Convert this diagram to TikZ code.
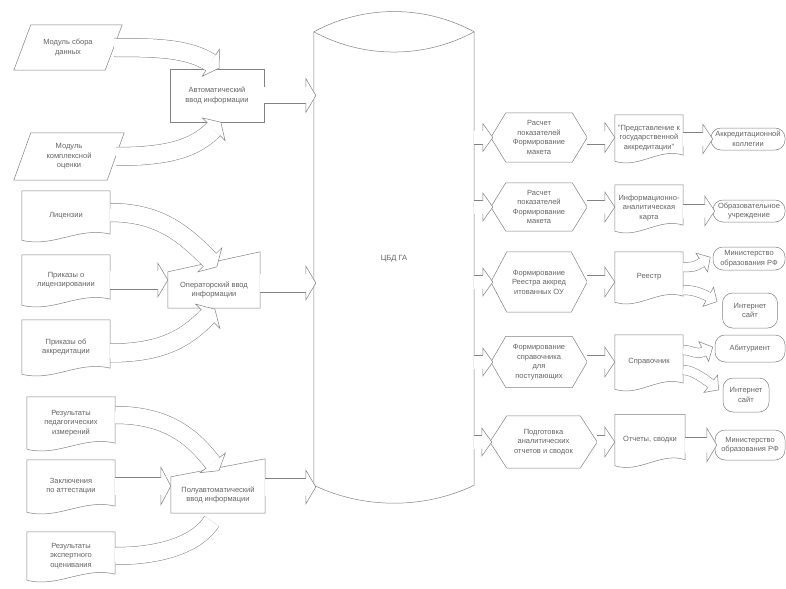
\documentclass[tikz,border=0pt]{standalone}
\usepackage{fontspec}
\setmainfont{Liberation Sans}
\usetikzlibrary{calc, positioning, decorations.markings}
\definecolor{linegray}{RGB}{130,130,130}
\definecolor{textgray}{RGB}{100,100,100}

% outlines drawn round named (invisible) nodes
\newcommand{\docoutline}[1]{%
  \draw[linegray, line width=0.5pt] (#1.south west) -- (#1.north west) -- (#1.north east) -- ($(#1.south east)+(0,-6)$)
    .. controls ($(#1.south east)!0.35!(#1.south west)+(0,-14)$) and ($(#1.south west)!0.35!(#1.south east)+(0,8)$) .. (#1.south west);}
\newcommand{\paroutline}[2]{%
  \draw[linegray, line width=0.5pt] (#1.south west) -- ($(#1.north west)+(#2,0)$) -- (#1.north east) -- ($(#1.south east)+(-#2,0)$) -- cycle;}
\newcommand{\manoutline}[2]{%
  \draw[linegray, line width=0.5pt] (#1.north west) -- ($(#1.north east)+(0,-#2)$) -- (#1.south east) -- (#1.south west) -- cycle;}
\newcommand{\hexoutline}[2]{%
  \draw[linegray, line width=0.5pt] (#1.west) -- ($(#1.north west)+(#2,0)$) -- ($(#1.north east)+(-#2,0)$) -- (#1.east)
    -- ($(#1.south east)+(-#2,0)$) -- ($(#1.south west)+(#2,0)$) -- cycle;}
% hollow block arrow: band width, head half width, path
\newcommand{\blockarrow}[3]{%
  \draw[linegray, line width=#1pt+1pt] #3;
  \draw[white, line width=#1pt] #3;
  \path[decorate, decoration={markings, mark=at position 1 with {%
    \fill[white] (0,-#2) -- (10,0) -- (0,#2) -- cycle;
    \draw[linegray, line width=0.5pt] (0,0.5*#1) -- (0,#2) -- (10,0) -- (0,-#2) -- (0,-0.5*#1);}}] #3;}

\begin{document}
\begin{tikzpicture}[x=1pt, y=-1pt,
  lbl/.style={font=\fontsize{7.5}{9.5}\selectfont, text=textgray, align=center, inner sep=0pt},
  box/.style={lbl, draw=linegray, line width=0.5pt},
  term/.style={box, rounded corners=10pt}]
  \fill[white] (0,0) rectangle (786,583);

  % Sources
  \node[lbl, minimum width=108pt, minimum height=45pt] (sbor) at (68,47.5) {Модуль сбора\\данных};
  \node[lbl, minimum width=110pt, minimum height=47pt] (kompl) at (69,156.5) {Модуль\\комплексной\\оценки};
  \node[lbl, minimum width=88pt, minimum height=49pt] (licenz) at (66,215.5) {Лицензии};
  \node[lbl, minimum width=88pt, minimum height=50pt] (prlic) at (66,280) {Приказы о\\лицензировании};
  \node[lbl, minimum width=88pt, minimum height=54pt] (prakk) at (66,347) {Приказы об\\аккредитации};
  \node[lbl, minimum width=88pt, minimum height=52pt] (pedizm) at (71,423) {Результаты\\педагогических\\измерений};
  \node[lbl, minimum width=88pt, minimum height=52pt] (zaklat) at (71,486) {Заключения\\по аттестации};
  \node[lbl, minimum width=88pt, minimum height=48pt] (ekspert) at (71,556) {Результаты\\экспертного\\оценивания};
  \paroutline{sbor}{17}
  \paroutline{kompl}{17}
  \docoutline{licenz}
  \docoutline{prlic}
  \docoutline{prakk}
  \docoutline{pedizm}
  \docoutline{zaklat}
  \docoutline{ekspert}

  % Input modes
  \node[box, minimum width=94pt, minimum height=53pt] (avtovvod) at (217,95.5) {Автоматический\\ввод информации};
  \node[lbl, minimum width=92pt, minimum height=36pt] (opervvod) at (214,290) {Операторский ввод\\информации};
  \node[lbl, minimum width=94pt, minimum height=36pt] (poluvvod) at (218,495) {Полуавтоматический\\ввод информации};
  \manoutline{opervvod}{20}
  \manoutline{poluvvod}{18}

  % Database
  \node[lbl, minimum width=160pt, minimum height=453pt] (cbd) at (394,258.5) {ЦБД ГА};
  \draw[linegray, line width=0.5pt] (cbd.north west) -- (cbd.south west)
    .. controls ($(cbd.south west)+(50,24)$) and ($(cbd.south east)+(-50,24)$) .. (cbd.south east) -- (cbd.north east)
    .. controls ($(cbd.north east)+(-50,-27)$) and ($(cbd.north west)+(50,-27)$) .. (cbd.north west)
    .. controls ($(cbd.north west)+(50,27)$) and ($(cbd.north east)+(-50,27)$) .. (cbd.north east);

  % Processing
  \node[lbl, minimum width=96pt, minimum height=49pt] (raschet1) at (539,137.5) {Расчет\\показателей\\Формирование\\макета};
  \node[lbl, minimum width=96pt, minimum height=48pt] (raschet2) at (539,207) {Расчет\\показателей\\Формирование\\макета};
  \node[lbl, minimum width=96pt, minimum height=60pt] (formreestr) at (539,282) {Формирование\\Реестра аккред\\итованных ОУ};
  \node[lbl, minimum width=96pt, minimum height=51pt] (formsprav) at (539,362) {Формирование\\справочника\\для\\поступающих};
  \node[lbl, minimum width=107pt, minimum height=52pt] (podgot) at (543.5,442) {Подготовка\\аналитических\\отчетов и сводок};
  \hexoutline{raschet1}{15}
  \hexoutline{raschet2}{15}
  \hexoutline{formreestr}{16}
  \hexoutline{formsprav}{15}
  \hexoutline{podgot}{17}

  % Documents
  \node[lbl, minimum width=68pt, minimum height=46pt] (predst) at (649,138) {"Представление к\\государственной\\аккредитации"};
  \node[lbl, minimum width=68pt, minimum height=46pt] (infkarta) at (649,208) {Информационно-\\аналитическая\\карта};
  \node[lbl, minimum width=68pt, minimum height=50pt] (reestr) at (649,277) {Реестр};
  \node[lbl, minimum width=68pt, minimum height=54pt] (spravoch) at (649,362) {Справочник};
  \node[lbl, minimum width=70pt, minimum height=51pt] (otchety) at (650,440) {Отчеты, сводки};
  \docoutline{predst}
  \docoutline{infkarta}
  \docoutline{reestr}
  \docoutline{spravoch}
  \docoutline{otchety}

  % Recipients
  \node[term, minimum width=74pt, minimum height=22pt] (akkol) at (748,139) {Аккредитационной\\коллегии};
  \node[term, minimum width=72pt, minimum height=22pt] (obruchr) at (749,211) {Образовательное\\учреждение};
  \node[term, minimum width=72pt, minimum height=23pt] (minobr1) at (749,258.5) {Министерство\\образования РФ};
  \node[term, minimum width=55pt, minimum height=35pt] (sait1) at (750,310.5) {Интернет\\сайт};
  \node[term, minimum width=70pt, minimum height=27pt] (abitur) at (750,348.5) {Абитуриент};
  \node[term, minimum width=46pt, minimum height=34pt] (sait2) at (746,395) {Интернет\\сайт};
  \node[term, minimum width=70pt, minimum height=30pt] (minobr2) at (750,445) {Министерство\\образования РФ};

  % Flows into the input modes
  \blockarrow{18}{16}{($(sbor.east)+(-8,0)$) .. controls +(45,0) and +(-22,-14) .. ($(avtovvod.north west)+(41,-6)$)}
  \blockarrow{18}{16}{($(kompl.east)+(-8,0)$) .. controls +(55,0) and +(-18,18) .. ($(avtovvod.south west)+(44,7)$)}
  \blockarrow{18}{17}{($(licenz.east)+(0,-3)$) .. controls +(50,0) and +(-25,-25) .. ($(opervvod.north west)+(42,-12)$)}
  \blockarrow{18}{17}{(prlic.east) -- ($(opervvod.west |- prlic.east)+(-10,0)$)}
  \blockarrow{18}{17}{($(prakk.east)+(0,6)$) .. controls +(55,0) and +(-20,20) .. ($(opervvod.south west)+(40,8)$)}
  \blockarrow{17}{16}{($(pedizm.east)+(0,-8)$) .. controls +(55,0) and +(-18,-23) .. ($(poluvvod.north west)+(42,-14)$)}
  \blockarrow{17}{19}{(zaklat.east) -- ($(poluvvod.west |- zaklat.east)+(-10,0)$)}
  \blockarrow{17}{16}{(ekspert.east) .. controls +(50,0) and +(-13,21) .. ($(poluvvod.south west)+(41,8)$)}

  % Flows into the database
  \blockarrow{16}{17}{(avtovvod.east) -- ($(cbd.west |- avtovvod.east)+(-8,0)$)}
  \blockarrow{18}{17}{($(opervvod.east)+(0,-7)$) -- ($(cbd.west |- opervvod.east)+(-8,-7)$)}
  \blockarrow{17}{17}{($(poluvvod.east)+(0,-8)$) -- ($(cbd.west |- poluvvod.east)+(-8,-8)$)}

  % Flows out of the database
  \foreach \hx/\dc in {raschet1/predst, raschet2/infkarta, formreestr/reestr, formsprav/spravoch, podgot/otchety} {
    \blockarrow{13}{14}{(cbd.east |- \hx.west) -- ($(\hx.west)+(-8,0)$)}
    \blockarrow{13}{15}{(\hx.east) -- ($(\dc.west |- \hx.east)+(-10,0)$)}
  }
  \blockarrow{13}{15}{(predst.east |- akkol.west) -- ($(akkol.west)+(-8,0)$)}
  \blockarrow{13}{15}{(infkarta.east |- obruchr.west) -- ($(obruchr.west)+(-8,0)$)}
  \blockarrow{15}{17}{(otchety.east |- minobr2.west) -- ($(minobr2.west)+(-8,0)$)}
  \blockarrow{9}{11}{($(reestr.east)+(0,-10)$) .. controls +(9,0) and +(-8,5) .. ($(minobr1.west)+(-11,4)$)}
  \blockarrow{9}{11}{($(reestr.east)+(0,13)$) .. controls +(8,0) and +(-9,-5) .. ($(sait1.north west)+(-14,4)$)}
  \blockarrow{9}{11}{($(spravoch.east)+(0,-12)$) .. controls +(9,0) and +(-8,4) .. ($(abitur.west)+(-11,3)$)}
  \blockarrow{9}{11}{($(spravoch.east)+(0,8)$) .. controls +(8,0) and +(-9,-7) .. ($(sait2.north west)+(-12,6)$)}
\end{tikzpicture}
\end{document}
